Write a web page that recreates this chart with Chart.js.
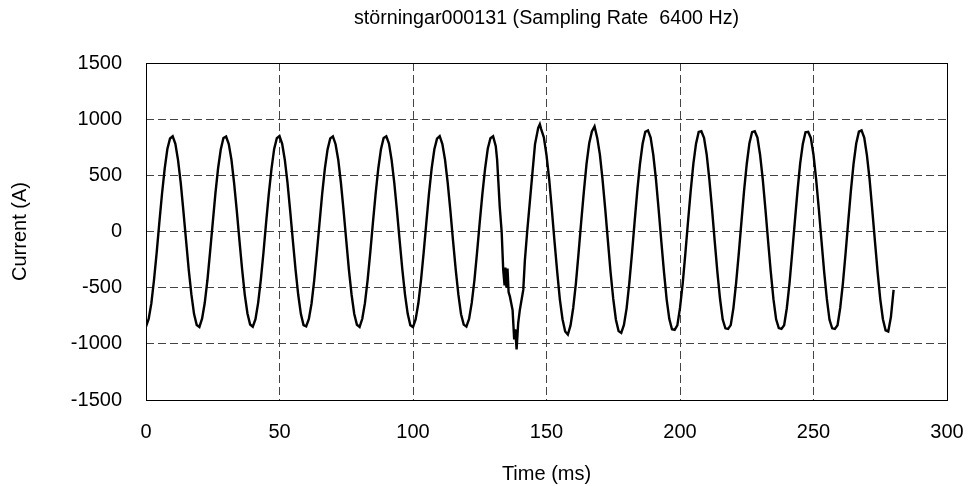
<!DOCTYPE html>
<html>
<head>
  <meta charset="utf-8">
  <title>störningar000131</title>
  <script src="https://cdn.jsdelivr.net/npm/chart.js"></script>
  <style>
    body { margin: 0; background: #fff; }
    #wrap { width: 970px; height: 486px; }
  </style>
</head>
<body>
  <div id="wrap"><canvas id="waveChart" width="970" height="486"></canvas></div>

  <script>
    const chartTitle = "störningar000131 (Sampling Rate  6400 Hz)";
    const xTitle = "Time (ms)";
    const yTitle = "Current (A)";
    const xTicks = [0, 50, 100, 150, 200, 250, 300];
    const yTicks = [-1500, -1000, -500, 0, 500, 1000, 1500];

    // current, one value per ms, before the disturbance (t = 0..130 ms)
    const preFaultStart = 0;
    const preFault = [
      -846, -778, -640, -431, -188, 82, 336, 560, 734, 828, 848, 781, 636, 435, 183, -78, -340, -560, -735, -832,
      -850, -776, -637, -434, -182, 79, 340, 563, 730, 832, 845, 778, 640, 430, 186, -82, -336, -564, -730, -828,
      -848, -781, -635, -430, -187, 84, 337, 558, 735, 830, 850, 780, 637, 432, 184, -80, -338, -561, -733, -833,
      -845, -779, -641, -436, -184, 78, 339, 562, 731, 829, 846, 777, 639, 434, 187, -79, -341, -563, -734, -830,
      -849, -777, -638, -433, -186, 81, 336, 561, 733, 833, 847, 782, 636, 431, 183, -81, -337, -559, -731, -834,
      -851, -780, -639, -432, -185, 80, 341, 564, 732, 827, 849, 779, 638, 433, 185, -83, -339, -562, -736, -829,
      -847, -778, -636, -435, -184, 83, 338, 560, 736, 831, 848
    ];

    // the disturbance around 131..148 ms, read at uneven times
    const faultTimes = [131, 131.5, 132, 132.5, 133.2, 133.8, 134.3, 134.6, 135, 135.4, 135.8, 136.3, 137.3,
      137.9, 138.3, 138.8, 139.4, 140, 141.3, 141.9, 142.8, 143.8, 144.8, 145.7, 146.9, 147.5];
    const faultValues = [760, 640, 430, 215, 0, -345, -480, -320, -500, -330, -540, -580, -700,
      -960, -870, -1050, -815, -700, -520, -257, 9, 274, 540, 778, 923, 955];

    // one value per ms after the disturbance (t = 148..280 ms)
    const postFaultStart = 148;
    const postFault = [
      912, 838, 680, 466, 196, -88, -358, -604, -781, -890, -918, -836,
      -681, -465, -195, 88, 358, 604, 785, 890, 936, 833, 685, 460, 200, -84, -363, -600, -785, -886, -903, -832,
      -684, -461, -199, 85, 362, 600, 781, 887, 900, 836, 681, 465, 196, -88, -359, -604, -780, -870, -876, -836,
      -680, -466, -197, 87, 360, 603, 782, 886, 893, 834, 684, 462, 199, -85, -362, -601, -784, -862, -867, -833,
      -682, -462, -200, 84, 363, 601, 786, 885, 893, 837, 682, 464, 197, -87, -360, -603, -782, -860, -867, -834,
      -683, -464, -196, 86, 359, 605, 780, 884, 888, 833, 683, 461, 198, -86, -361, -600, -786, -862, -867, -835,
      -681, -463, -198, 85, 361, 602, 783, 889, 900, 836, 680, 466, 195, -84, -358, -602, -781, -880, -890, -760,
      -520
    ];
    const stepMs = 1;

    const points = [];
    preFault.forEach((v, i) => points.push({ x: preFaultStart + i * stepMs, y: v }));
    faultTimes.forEach((t, i) => points.push({ x: t, y: faultValues[i] }));
    postFault.forEach((v, i) => points.push({ x: postFaultStart + i * stepMs, y: v }));

    Chart.defaults.font.family = '"Liberation Sans", Arial, sans-serif';
    Chart.defaults.font.size = 20;
    Chart.defaults.color = "#000";

    // solid box round the plot and the title centred over it
    const framePlugin = {
      id: "frame",
      beforeDatasetsDraw(chart) {
        const { ctx, chartArea: a } = chart;
        ctx.save();
        ctx.strokeStyle = "#000";
        ctx.lineWidth = 1;
        ctx.strokeRect(Math.round(a.left) + 0.5, Math.round(a.top) + 0.5,
          Math.round(a.right - a.left), Math.round(a.bottom - a.top));
        ctx.fillStyle = "#000";
        ctx.font = '19.7px "Liberation Sans", Arial, sans-serif';
        ctx.textAlign = "center";
        ctx.textBaseline = "middle";
        ctx.fillText(chartTitle, (a.left + a.right) / 2, 19);
        ctx.restore();
      }
    };

    const grid = {
      color: "#444",
      lineWidth: 1,
      drawTicks: false
    };

    new Chart(document.getElementById("waveChart").getContext("2d"), {
      type: "line",
      data: {
        datasets: [{
          data: points,
          borderColor: "#000",
          borderWidth: 2.4,
          pointRadius: 0,
          tension: 0,
          fill: false
        }]
      },
      options: {
        responsive: false,
        animation: false,
        events: [],
        layout: { padding: { top: 63, right: 23, left: 0, bottom: 0 } },
        plugins: { legend: { display: false }, tooltip: { enabled: false } },
        scales: {
          x: {
            type: "linear",
            min: xTicks[0],
            max: xTicks[xTicks.length - 1],
            afterBuildTicks: (s) => { s.ticks = xTicks.map(v => ({ value: v })); },
            afterFit: (s) => { s.height = 86; s.paddingLeft = 0; s.paddingRight = 0; },
            grid: grid,
            border: { display: false, dash: [8, 4] },
            ticks: { padding: 20, maxRotation: 0, callback: (v) => String(v) },
            title: { display: true, text: xTitle, padding: { top: 0, bottom: 0 } }
          },
          y: {
            type: "linear",
            min: yTicks[0],
            max: yTicks[yTicks.length - 1],
            afterBuildTicks: (s) => { s.ticks = yTicks.map(v => ({ value: v })); },
            afterFit: (s) => { s.width = 146; s.paddingTop = 0; s.paddingBottom = 0; },
            grid: grid,
            border: { display: false, dash: [8, 4] },
            ticks: { padding: 24, callback: (v) => String(v) },
            title: { display: true, text: yTitle, padding: { top: 8, bottom: 0 } }
          }
        }
      },
      plugins: [framePlugin]
    });
  </script>
</body>
</html>
